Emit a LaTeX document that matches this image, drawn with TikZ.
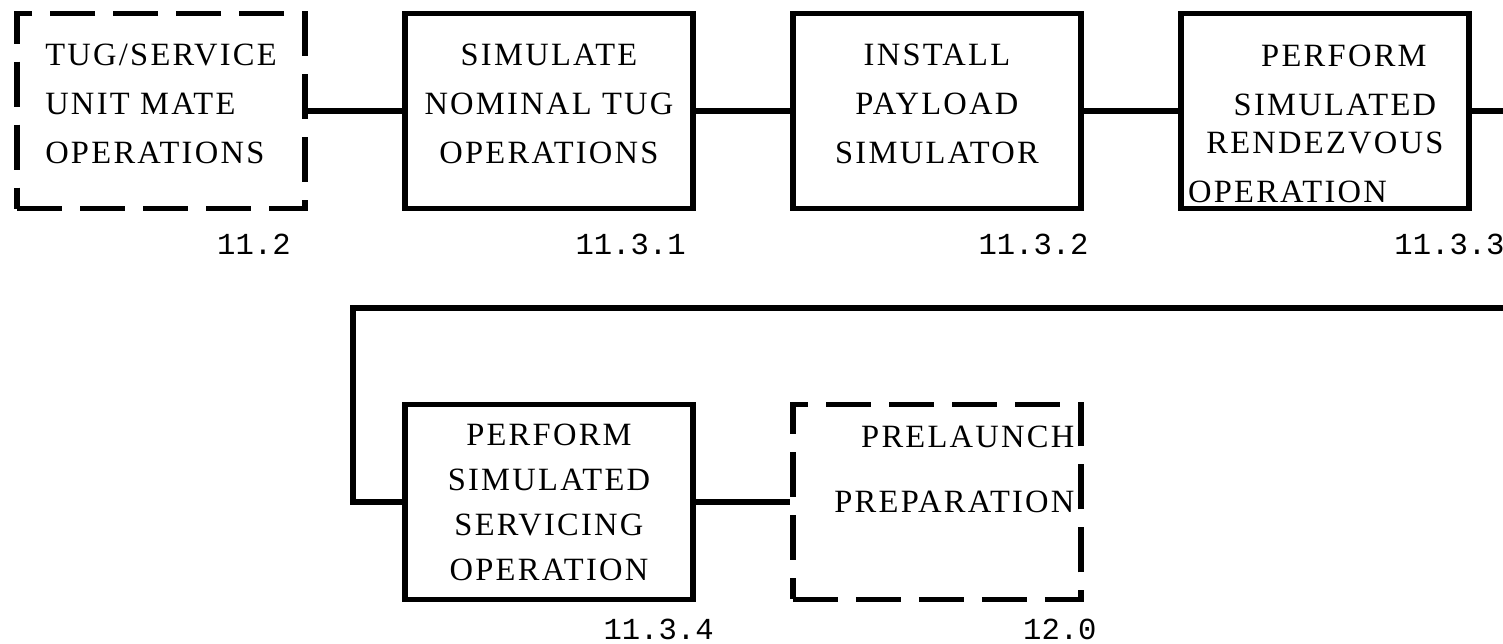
\documentclass[tikz,border=0pt]{standalone}
\usepackage{fontspec}
\setmainfont{Liberation Serif}[LetterSpace=7]
\newfontfamily\numfont{Liberation Mono}
\usetikzlibrary{positioning}
\tikzset{
  block/.style={rectangle, draw=black, minimum width=5.76cm, minimum height=3.9cm,
    align=center, font=\fontsize{18.5}{27.9}\selectfont, line width=3.4pt, inner sep=0.1cm},
  dashblock/.style={block, dash pattern=on 0.9cm off 0.36cm},
  numlabel/.style={font=\numfont\fontsize{17.4}{20}\selectfont, inner sep=0pt},
  line/.style={line width=3.4pt, color=black}
}

\begin{document}
\begin{tikzpicture}[node distance=3.8cm and 1.88cm]
  \useasboundingbox (0,0) rectangle (30.06,-12.86);

  % first row
  \node[dashblock, align=left] (mate) at (3.22,-2.22) {TUG/SERVICE\\UNIT MATE\\OPERATIONS\\[-0.7cm]\mbox{}};
  \node[block, right=of mate] (nom) {SIMULATE\\NOMINAL TUG\\OPERATIONS\\[-0.7cm]\mbox{}};
  \node[block, right=of nom] (pay) {INSTALL\\PAYLOAD\\SIMULATOR\\[-0.7cm]\mbox{}};
  \node[block, right=of pay] (rdv) {\mbox{}\\[-0.02cm]\hspace*{0.76cm}PERFORM\\\hspace*{0.4cm}SIMULATED\\[-0.22cm]RENDEZVOUS\\OPERATION\hspace*{1.5cm}};

  % second row
  \node[block, below=of nom, font=\fontsize{18.5}{25.6}\selectfont] (srv) {PERFORM\\SIMULATED\\SERVICING\\OPERATION};
  \node[dashblock, right=of srv, text width=5.5cm, align=right,
    font=\fontsize{18.5}{37}\selectfont] (pre) {PRELAUNCH\\PREPARATION\\\mbox{}};

  % numbers
  \node[numlabel, below left=0.44cm and 0.34cm of mate.south east] (nmate) {11.2};
  \node[numlabel, below left=0.44cm and 0.2cm of nom.south east] (nnom) {11.3.1};
  \node[numlabel, below left=0.44cm and -0.1cm of pay.south east] (npay) {11.3.2};
  \node[numlabel, below left=0.44cm and -0.66cm of rdv.south east] (nrdv) {11.3.3};
  \node[numlabel, below left=0.32cm and -0.36cm of srv.south east] (nsrv) {11.3.4};
  \node[numlabel, below left=0.32cm and -0.26cm of pre.south east] (npre) {12.0};

  % connectors
  \coordinate (exit) at (30.06,-2.22);
  \coordinate (entry) at (30.06,-6.16);
  \coordinate (bend) at (7.06,-6.16);
  \draw[line] (mate) -- (nom);
  \draw[line] (nom) -- (pay);
  \draw[line] (pay) -- (rdv);
  \draw[line] (rdv) -- (exit);
  \draw[line] (entry) -- (bend) |- (srv);
  \draw[line] (srv) -- (pre);
\end{tikzpicture}
\end{document}
